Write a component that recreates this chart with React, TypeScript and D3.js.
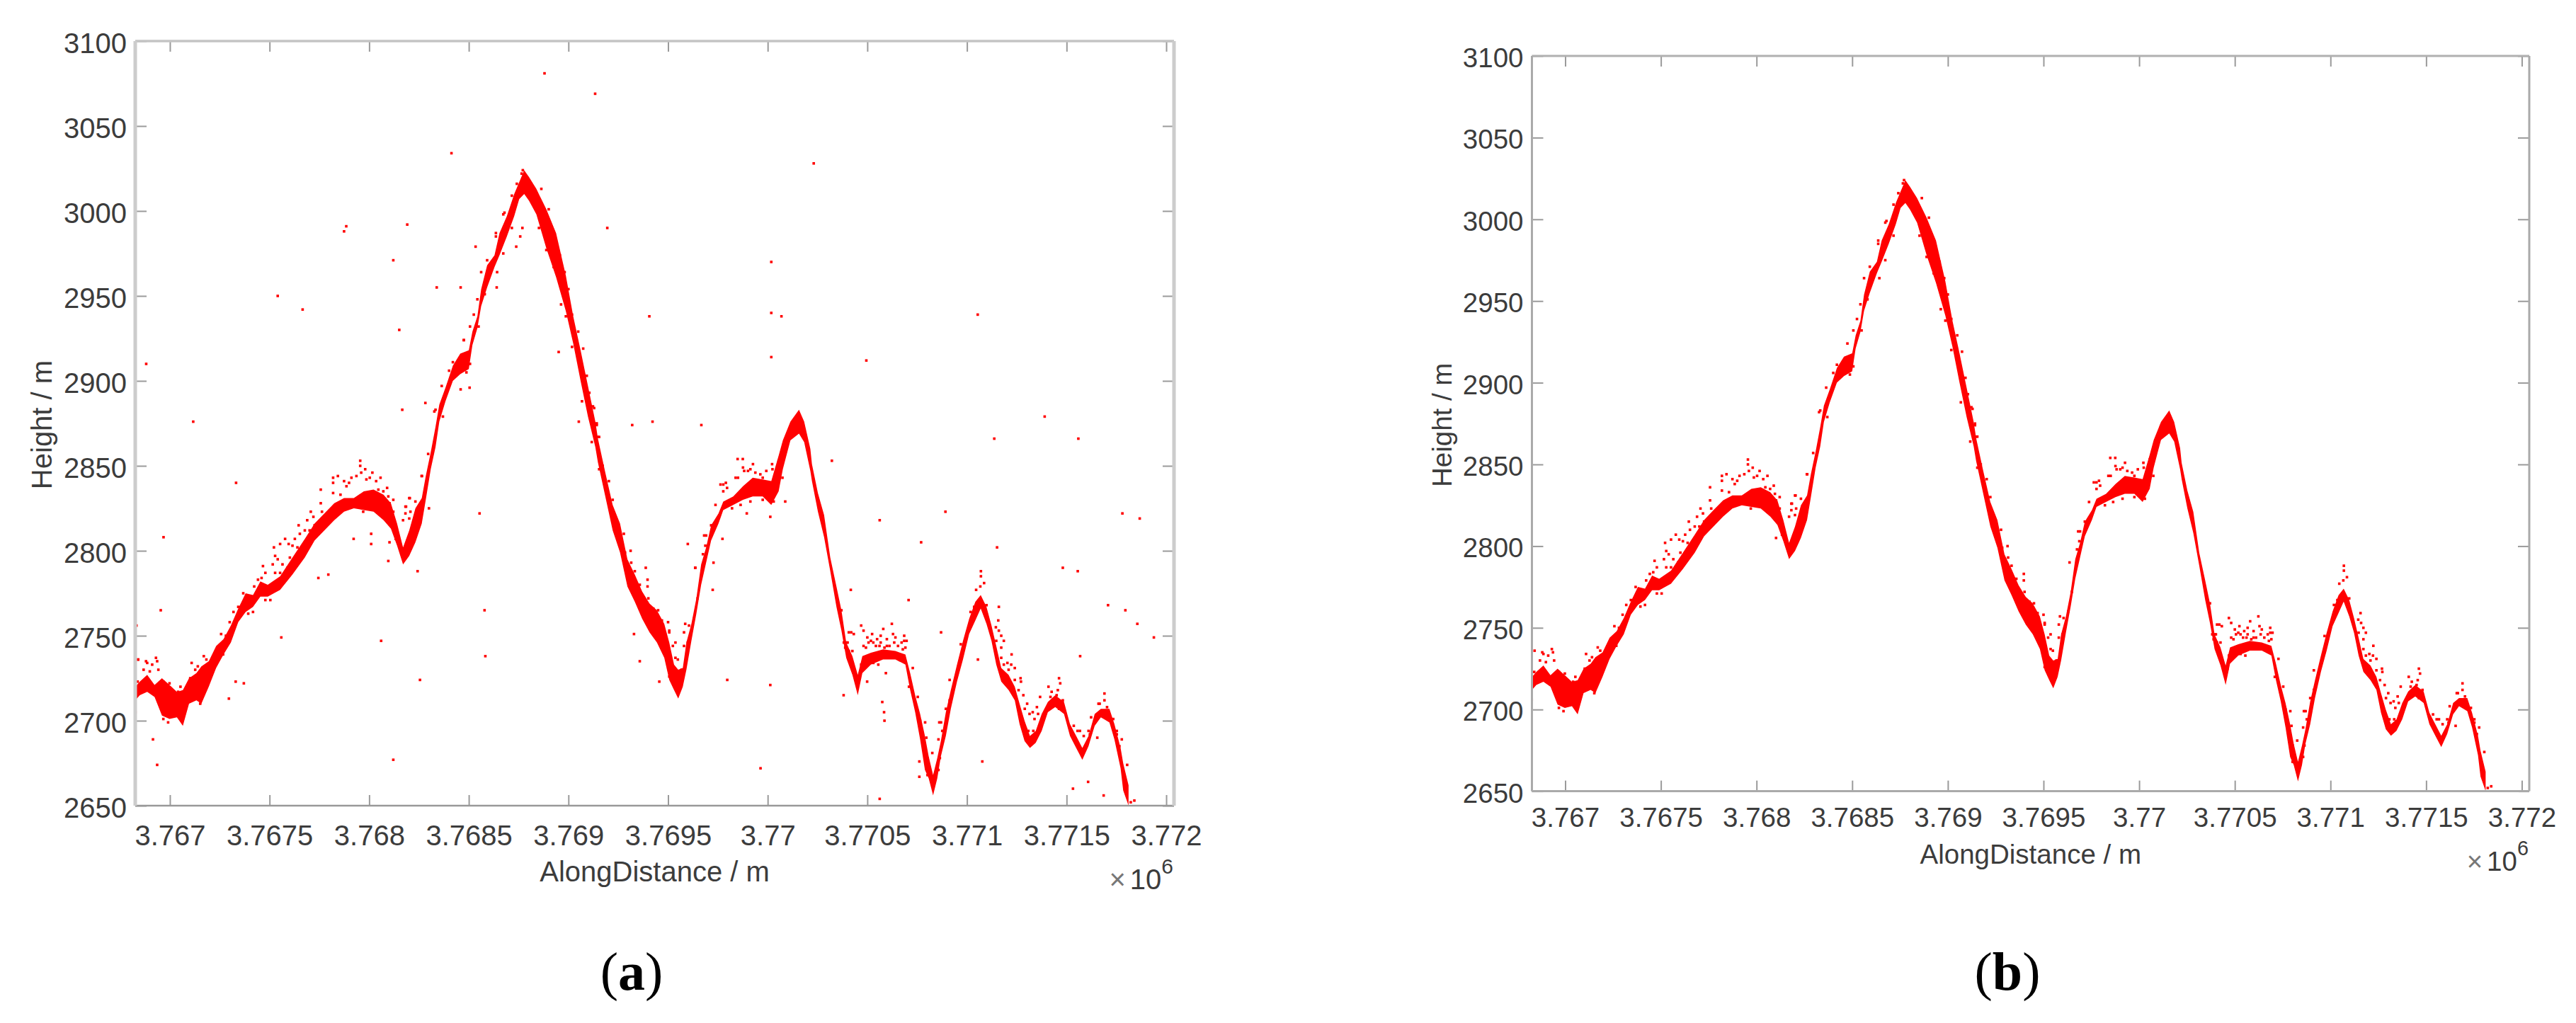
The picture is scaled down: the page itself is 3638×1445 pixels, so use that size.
import React, { useEffect, useRef } from "react";
import * as d3 from "d3";

// along-track distances are metres past 3,767,000
const ORIGIN = 3767000;

const xTicks = [3767000, 3767500, 3768000, 3768500, 3769000, 3769500, 3770000, 3770500, 3771000, 3771500, 3772000];
const yTicks = [2650, 2700, 2750, 2800, 2850, 2900, 2950, 3000, 3050, 3100];

// dense ground return: top and bottom of the cloud at each station
const stations = [
	-181, -151, -114, -77, -40, -2, 35, 65, 96, 133, 158, 195, 232, 269, 306, 343, 380, 417, 454, 491,
	553, 615, 677, 726, 775, 825, 874, 923, 973, 1022, 1072, 1109, 1140, 1170, 1201, 1232, 1264,
	1284, 1309, 1333, 1352, 1383, 1420, 1457, 1500, 1518, 1543, 1562, 1592, 1629, 1654, 1691, 1728, 1753,
	1778, 1802, 1839, 1889, 1938, 1987, 2024, 2061, 2098, 2135, 2148, 2185, 2222, 2259, 2296, 2333,
	2370, 2407, 2444, 2481, 2506, 2530, 2551, 2574, 2592, 2617, 2642, 2666, 2691, 2716, 2753, 2777,
	2827, 2876, 2925, 2975, 3018, 3055, 3076, 3114, 3157, 3183, 3214, 3222, 3252, 3283, 3314, 3345,
	3370, 3394, 3425, 3452, 3475, 3518, 3579, 3641, 3691, 3715, 3740, 3765, 3789, 3808, 3830, 3851,
	3869, 3894, 3919, 3950, 3980, 4011, 4042, 4069, 4098, 4123, 4147, 4172, 4209, 4240, 4264, 4289,
	4316, 4345, 4375, 4406, 4443, 4487, 4517, 4548, 4579, 4610, 4641, 4672, 4715, 4740, 4771, 4784, 4811,
];
const bandTop = [
	2719, 2723, 2727, 2721, 2725, 2721, 2717, 2718, 2725, 2728, 2732, 2735, 2744, 2748, 2756, 2766, 2775, 2774, 2782, 2780,
	2785, 2796, 2807, 2816, 2822, 2828, 2831, 2831, 2835, 2836, 2833, 2828, 2816, 2802, 2812, 2825, 2831,
	2844, 2858, 2873, 2886, 2896, 2909, 2916, 2918, 2929, 2938, 2954, 2968, 2974, 2987, 2997, 3010, 3017,
	3024, 3020, 3013, 3001, 2987, 2962, 2938, 2918, 2897, 2876, 2866, 2846, 2827, 2816, 2795, 2786,
	2776, 2769, 2765, 2757, 2746, 2733, 2730, 2731, 2746, 2757, 2772, 2792, 2802, 2815, 2822, 2829,
	2832, 2838, 2843, 2842, 2841, 2856, 2865, 2876, 2883, 2876, 2860, 2851, 2834, 2821, 2796, 2779,
	2765, 2746, 2738, 2727, 2738, 2740, 2742, 2741, 2739, 2728, 2715, 2704, 2691, 2679, 2668, 2678,
	2688, 2705, 2718, 2733, 2747, 2760, 2770, 2774, 2767, 2756, 2744, 2731, 2727, 2720, 2710, 2700,
	2691, 2694, 2704, 2711, 2715, 2711, 2698, 2691, 2684, 2691, 2704, 2707, 2707, 2698, 2684, 2675, 2662,
];
const bandBottom = [
	2711, 2715, 2717, 2714, 2703, 2701, 2702, 2697, 2710, 2712, 2710, 2720, 2731, 2739, 2746, 2758, 2764, 2767, 2773, 2773,
	2777, 2786, 2796, 2806, 2812, 2818, 2823, 2825, 2824, 2823, 2818, 2813, 2803, 2792, 2797, 2805, 2816,
	2830, 2848, 2861, 2876, 2888, 2900, 2904, 2907, 2921, 2931, 2944, 2955, 2967, 2974, 2985, 2997, 3007,
	3010, 3006, 2998, 2978, 2961, 2941, 2922, 2900, 2879, 2861, 2852, 2832, 2812, 2799, 2779, 2770,
	2760, 2752, 2746, 2737, 2724, 2718, 2713, 2720, 2730, 2747, 2763, 2780, 2793, 2806, 2816, 2824,
	2827, 2830, 2832, 2832, 2827, 2835, 2848, 2865, 2869, 2864, 2847, 2841, 2823, 2808, 2788, 2767,
	2753, 2737, 2727, 2715, 2728, 2733, 2736, 2736, 2733, 2718, 2705, 2689, 2671, 2666, 2656, 2666,
	2679, 2691, 2707, 2723, 2736, 2751, 2759, 2766, 2757, 2747, 2733, 2723, 2718, 2712, 2698, 2688,
	2684, 2687, 2694, 2705, 2708, 2704, 2691, 2684, 2677, 2685, 2697, 2702, 2699, 2689, 2672, 2659, 2650,
];

// scattered returns around the cloud, drawn in both panels
const fuzzPoints: [number, number][] = [
	[-160, 2736], [-70, 2737], [-64, 2735], [-114, 2734], [-132, 2730], [-101, 2729], [-58, 2730], [-33, 2723], [-2, 2722], [53, 2720],
	[109, 2734], [170, 2738], [183, 2736], [140, 2732], [257, 2751], [300, 2758], [467, 2791], [479, 2787], [460, 2784], [522, 2802],
	[553, 2804], [578, 2807], [596, 2804], [528, 2797], [541, 2795], [565, 2792], [516, 2792], [553, 2787], [528, 2787], [615, 2803],
	[627, 2807], [646, 2815], [652, 2810], [640, 2802], [602, 2796], [590, 2790], [707, 2823], [720, 2820], [689, 2818], [677, 2812],
	[701, 2812], [726, 2815], [757, 2836], [757, 2828], [763, 2823], [819, 2843], [843, 2844], [819, 2840], [819, 2834], [856, 2833],
	[955, 2853], [955, 2850], [899, 2840], [886, 2838], [936, 2844], [980, 2848], [986, 2842], [1016, 2846], [1057, 2843], [1035, 2841],
	[1090, 2837], [1096, 2832], [1121, 2830], [970, 2823], [1201, 2831], [1263, 2844], [1182, 2822], [1170, 2818], [1207, 2823], [1232, 2829],
	[504, 2771], [479, 2771], [393, 2763], [417, 2764], [267, 2739], [152, 2710], [-9, 2699], [-33, 2701], [-175, 2706],
	[1475, 2924], [1204, 2831], [1185, 2826], [1679, 2999], [1636, 2987], [1562, 2964], [1771, 3024], [1741, 3016], [1333, 2883], [2123, 2885],
	[2142, 2875], [2148, 2867], [2092, 2903], [2092, 2894], [1265, 2844],
	[2278, 2810], [2312, 2800], [2397, 2783], [2397, 2779], [2450, 2765], [2500, 2758], [2506, 2753], [2537, 2746], [2549, 2736], [2586, 2757],
	[2580, 2752], [2636, 2790], [2675, 2798], [2681, 2809], [2687, 2803], [2738, 2827], [2763, 2839], [2790, 2840], [2777, 2835], [2839, 2843],
	[2876, 2849], [2926, 2851], [2901, 2847], [2963, 2845], [3022, 2851], [2993, 2847], [3055, 2853], [2913, 2829], [2864, 2827], [2821, 2825],
	[3407, 2752], [3432, 2751], [2849, 2854], [2875, 2854],
	[4070, 2788], [4070, 2785], [4086, 2781], [4067, 2779], [4046, 2777], [4157, 2759], [4145, 2755], [4172, 2750], [4185, 2747], [4172, 2743],
	[4224, 2739], [4203, 2734], [4222, 2733], [4240, 2731], [4269, 2725], [4283, 2715], [4302, 2710], [4367, 2714], [4351, 2708], [4330, 2705],
	[4462, 2725], [4468, 2722], [4409, 2720], [4425, 2717], [4456, 2718], [4690, 2716], [4690, 2712], [4660, 2710], [4654, 2690], [4623, 2702],
	[4610, 2694], [4567, 2694], [4536, 2697], [4752, 2694], [4777, 2689], [3469, 2756], [3481, 2753], [3500, 2749], [3524, 2751], [3549, 2748],
	[3580, 2754], [3567, 2750], [3598, 2748], [3623, 2757], [3629, 2751], [3641, 2749], [3685, 2750], [3697, 2747], [3672, 2746], [3530, 2746],
	[3493, 2743], [3561, 2744], [3598, 2744], [3419, 2752], [3401, 2746], [3389, 2743], [3425, 2741], [3370, 2765], [3728, 2731], [3709, 2720],
	[3753, 2714], [3790, 2699], [3796, 2690], [3870, 2699], [3876, 2694], [3857, 2689], [3826, 2681], [3802, 2668], [3913, 2724], [3969, 2745],
	[4804, 2674], [3861, 2699], [4840, 2653], [4822, 2652],
	// edges of the flanks around the main peak
	[1864, 3013], [1901, 3001], [1926, 2987], [1957, 2974], [1981, 2964], [2000, 2954], [2018, 2939], [2049, 2929], [2074, 2919], [2105, 2893],
	[2129, 2884], [2142, 2874], [2154, 2867], [2172, 2850], [2203, 2841], [2222, 2830], [1852, 2990], [1889, 2977], [1926, 2967], [1963, 2945],
	[1987, 2938], [2018, 2920], [2068, 2888], [2117, 2864], [2154, 2848], [1296, 2857], [1327, 2882], [1364, 2897], [1401, 2906], [1420, 2911],
	[1506, 2932], [1525, 2939], [1543, 2948], [1592, 2971], [1636, 2985], [1673, 2998], [1716, 3009], [1765, 3022], [1370, 2879], [1488, 2905],
	[1506, 2910], [1549, 2932], [1580, 2951], [1642, 2964], [1673, 2975], [1716, 2990],
	// denser patches of the cloud
	[960, 2846], [1003, 2843], [911, 2843], [1046, 2836], [1071, 2835], [1102, 2828], [1121, 2823], [874, 2841], [1182, 2826], [1201, 2819],
	[1232, 2815], [1121, 2816], [1133, 2807], [1207, 2805], [1102, 2805], [-89, 2733], [-120, 2735], [-162, 2723], [-27, 2720], [22, 2715],
	[41, 2717], [90, 2721], [102, 2725], [127, 2730], [164, 2731], [201, 2733], [220, 2737], [238, 2741], [281, 2750], [319, 2764],
	[343, 2767], [368, 2775], [423, 2779], [442, 2783], [2777, 2839], [2796, 2837], [2851, 2843], [2882, 2847], [2913, 2848], [2938, 2846],
	[2975, 2843], [3024, 2848], [3043, 2845], [3061, 2848], [3074, 2843], [3030, 2829], [2975, 2830], [2284, 2799], [2315, 2793], [2333, 2788],
	[2358, 2780], [2401, 2772], [2426, 2766], [2469, 2759], [2506, 2752], [2524, 2744], [2537, 2737], [2494, 2736], [2506, 2726], [2568, 2730],
	[2586, 2733], [2599, 2746], [2580, 2744], [2605, 2756], [2629, 2760], [2648, 2772], [2691, 2809], [2716, 2815], [3481, 2744], [3506, 2746],
	[3518, 2747], [3543, 2744], [3567, 2746], [3586, 2743], [3611, 2744], [3635, 2746], [3654, 2744], [3685, 2747], [3691, 2743], [3678, 2742],
	[3481, 2732], [3530, 2734], [3555, 2733], [3469, 2733], [3407, 2741], [3413, 2737], [3395, 2746], [3382, 2746], [3425, 2731], [3462, 2725],
	[4185, 2727], [4209, 2730], [4240, 2724], [4259, 2718], [4271, 2723], [4185, 2733], [4172, 2737], [4147, 2747], [4160, 2753], [4290, 2707],
	[4314, 2704], [4339, 2701], [4357, 2704], [4308, 2694], [4333, 2694], [4296, 2695], [4419, 2714], [4450, 2715], [4481, 2712], [4431, 2710],
	[4462, 2707], [4555, 2694], [4586, 2691], [4617, 2692], [4666, 2710], [4703, 2708], [4734, 2701], [4752, 2692], [4765, 2685], [3802, 2678],
	[3864, 2678], [3808, 2672], [3857, 2671], [3765, 2700], [3777, 2692], [3894, 2707], [3913, 2712], [4036, 2767], [4098, 2768], [4018, 2764],
];

// noise points that only panel (a) still has
const outlierPoints: [number, number][] = [
	[1880, 3081], [2134, 3069], [1413, 3034], [1191, 2992], [885, 2991], [874, 2988], [2195, 2990], [1121, 2971], [1769, 2990], [1758, 2985],
	[1738, 2979], [1534, 2979], [541, 2950], [666, 2942], [1339, 2955], [1459, 2955], [1640, 2955], [2406, 2938], [1151, 2930], [1951, 2917],
	[-119, 2910], [1475, 2924], [1166, 2883], [1282, 2887], [1459, 2895], [1504, 2896], [117, 2876], [2052, 2876], [2320, 2874], [2422, 2876],
	[2667, 2874], [332, 2840], [3231, 3028], [3018, 2970], [3018, 2940], [3069, 2938], [4054, 2939], [3018, 2914], [3495, 2912], [4390, 2879],
	[4137, 2866], [4559, 2866], [3322, 2853], [3088, 2829], [1554, 2822], [-32, 2808], [922, 2807], [1010, 2810], [1010, 2804], [1096, 2794],
	[1243, 2788], [1300, 2825], [745, 2784], [795, 2786], [1579, 2765], [-46, 2765], [2599, 2804], [2637, 2790], [2388, 2790], [2329, 2751],
	[2358, 2735], [2456, 2723], [559, 2749], [1060, 2747], [1583, 2738], [1255, 2724], [330, 2723], [371, 2722], [296, 2713], [-85, 2689],
	[-64, 2674], [1121, 2677], [-168, 2756], [-159, 2736], [-173, 2705], [2895, 2822], [3013, 2820], [2773, 2807], [2728, 2793], [2724, 2777],
	[2797, 2724], [3013, 2721], [2964, 2672], [3562, 2818], [3892, 2823], [3770, 2805], [4151, 2802], [4780, 2822], [4867, 2819], [3417, 2777],
	[3707, 2771], [4160, 2767], [4481, 2790], [4556, 2788], [4708, 2768], [4795, 2765], [4855, 2757], [4938, 2749], [3870, 2752], [4568, 2738],
	[4055, 2736], [3381, 2715], [3575, 2711], [3584, 2705], [3586, 2700], [3593, 2728], [3499, 2723], [4077, 2676], [3761, 2676], [3761, 2667],
	[3562, 2654], [4532, 2660], [4608, 2664], [4686, 2656],
];

const panels = [
	{
		id: "a", left: 191, right: 1658, top: 58, bottom: 1138, fontSize: 40,
		frameH: { width: 5, color: "#cccccc" }, frameTop: { width: 3.5, color: "#c4c4c4" }, frameBottom: { width: 2.5, color: "#999999" },
		tickPad: 27.6, titleY: 1245, yTitleX: 73, exponentX: 1657, exponentY: 1256, captionX: 892, points: [...fuzzPoints, ...outlierPoints],
	},
	{
		id: "b", left: 2163.5, right: 3572, top: 79, bottom: 1117.6, fontSize: 38.5,
		frameH: { width: 3, color: "#aaaaaa" }, frameTop: { width: 3, color: "#b0b0b0" }, frameBottom: { width: 3, color: "#aaaaaa" },
		tickPad: 23, titleY: 1220, yTitleX: 2050, exponentX: 3571, exponentY: 1230, captionX: 2835, points: fuzzPoints,
	},
];

const DOT = 3.6;

const App: React.FC = () => {
	const ref = useRef<SVGSVGElement | null>(null);

	useEffect(() => {
		if (!ref.current) return;
		const svg = d3.select(ref.current);
		const textColor = "#3c3c3c";

		panels.forEach((p) => {
			const x = d3.scaleLinear().domain([3766826, 3772039]).range([p.left, p.right]);
			const y = d3.scaleLinear().domain([2650, 3100]).range([p.bottom, p.top]);
			const g = svg.append("g").attr("font-family", "'Liberation Sans', Arial, sans-serif");

			g.append("clipPath")
				.attr("id", `clip-${p.id}`)
				.append("rect")
				.attr("x", p.left)
				.attr("y", p.top)
				.attr("width", p.right - p.left)
				.attr("height", p.bottom - p.top);

			const marks = g.append("g").attr("clip-path", `url(#clip-${p.id})`);
			const band = d3
				.area<number>()
				.x((d) => x(ORIGIN + d))
				.y0((_, i) => y(bandBottom[i]))
				.y1((_, i) => y(bandTop[i]));
			marks.append("path").attr("d", band(stations)).attr("fill", "#ff0000");

			marks.selectAll("rect")
				.data(p.points)
				.enter()
				.append("rect")
				.attr("x", (d) => x(ORIGIN + d[0]) - DOT / 2)
				.attr("y", (d) => y(d[1]) - DOT / 2)
				.attr("width", DOT)
				.attr("height", DOT)
				.attr("fill", "#ff0000");

			// MATLAB style box: inward ticks on all four sides, labels on two
			const style = (axis: d3.Selection<SVGGElement, unknown, null, undefined>) => {
				axis.selectAll(".domain").remove();
				axis.selectAll(".tick line").attr("stroke", "#9a9a9a").attr("stroke-width", 2);
				axis.selectAll("text").attr("fill", textColor).attr("font-size", p.fontSize);
			};

			g.append("g")
				.attr("transform", `translate(0,${p.bottom})`)
				.call(d3.axisBottom(x).tickValues(xTicks).tickSize(-15).tickPadding(p.tickPad).tickFormat((d) => String(+d / 1e6)))
				.call(style);
			g.append("g")
				.attr("transform", `translate(0,${p.top})`)
				.call(d3.axisTop(x).tickValues(xTicks).tickSize(-15).tickFormat(() => ""))
				.call(style);
			g.append("g")
				.attr("transform", `translate(${p.left},0)`)
				.call(d3.axisLeft(y).tickValues(yTicks).tickSize(-16).tickPadding(12).tickFormat((d) => String(d)))
				.call(style)
				.selectAll("text")
				.attr("dy", "0.4em");
			g.append("g")
				.attr("transform", `translate(${p.right},0)`)
				.call(d3.axisRight(y).tickValues(yTicks).tickSize(-16).tickFormat(() => ""))
				.call(style);

			const frame = (x1: number, y1: number, x2: number, y2: number, s: { width: number; color: string }) =>
				g.append("line")
					.attr("x1", x1)
					.attr("y1", y1)
					.attr("x2", x2)
					.attr("y2", y2)
					.attr("stroke", s.color)
					.attr("stroke-width", s.width);
			frame(p.left, p.top, p.right, p.top, p.frameTop);
			frame(p.left, p.bottom, p.right, p.bottom, p.frameBottom);
			frame(p.left, p.top, p.left, p.bottom, p.frameH);
			frame(p.right, p.top, p.right, p.bottom, p.frameH);

			g.append("text")
				.attr("x", (p.left + p.right) / 2)
				.attr("y", p.titleY)
				.attr("text-anchor", "middle")
				.attr("font-size", p.fontSize)
				.attr("fill", textColor)
				.text("AlongDistance / m");

			g.append("text")
				.attr("transform", `translate(${p.yTitleX},${(p.top + p.bottom) / 2 + 2}) rotate(-90)`)
				.attr("text-anchor", "middle")
				.attr("font-size", p.fontSize)
				.attr("fill", textColor)
				.text("Height / m");

			const exponent = g.append("text")
				.attr("x", p.exponentX)
				.attr("y", p.exponentY)
				.attr("text-anchor", "end")
				.attr("font-size", p.fontSize)
				.attr("fill", textColor);
			exponent.append("tspan").attr("fill", "#777777").text("×");
			exponent.append("tspan").attr("dx", 6).text("10");
			exponent.append("tspan").attr("dy", -22).attr("font-size", p.fontSize * 0.75).text("6");

			const caption = svg.append("text")
				.attr("x", p.captionX)
				.attr("y", 1398)
				.attr("text-anchor", "middle")
				.attr("font-family", "'Liberation Serif', serif")
				.attr("font-size", 76)
				.attr("fill", "#000000");
			caption.append("tspan").text("(");
			caption.append("tspan").attr("font-weight", "bold").text(p.id);
			caption.append("tspan").text(")");
		});

		return () => {
			svg.selectAll("*").remove();
		};
	}, []);

	return (
		<svg
			ref={ref}
			width={3638}
			height={1445}
			style={{ position: "absolute", left: 0, top: 0, display: "block", background: "#ffffff" }}
		/>
	);
};

export default App;
